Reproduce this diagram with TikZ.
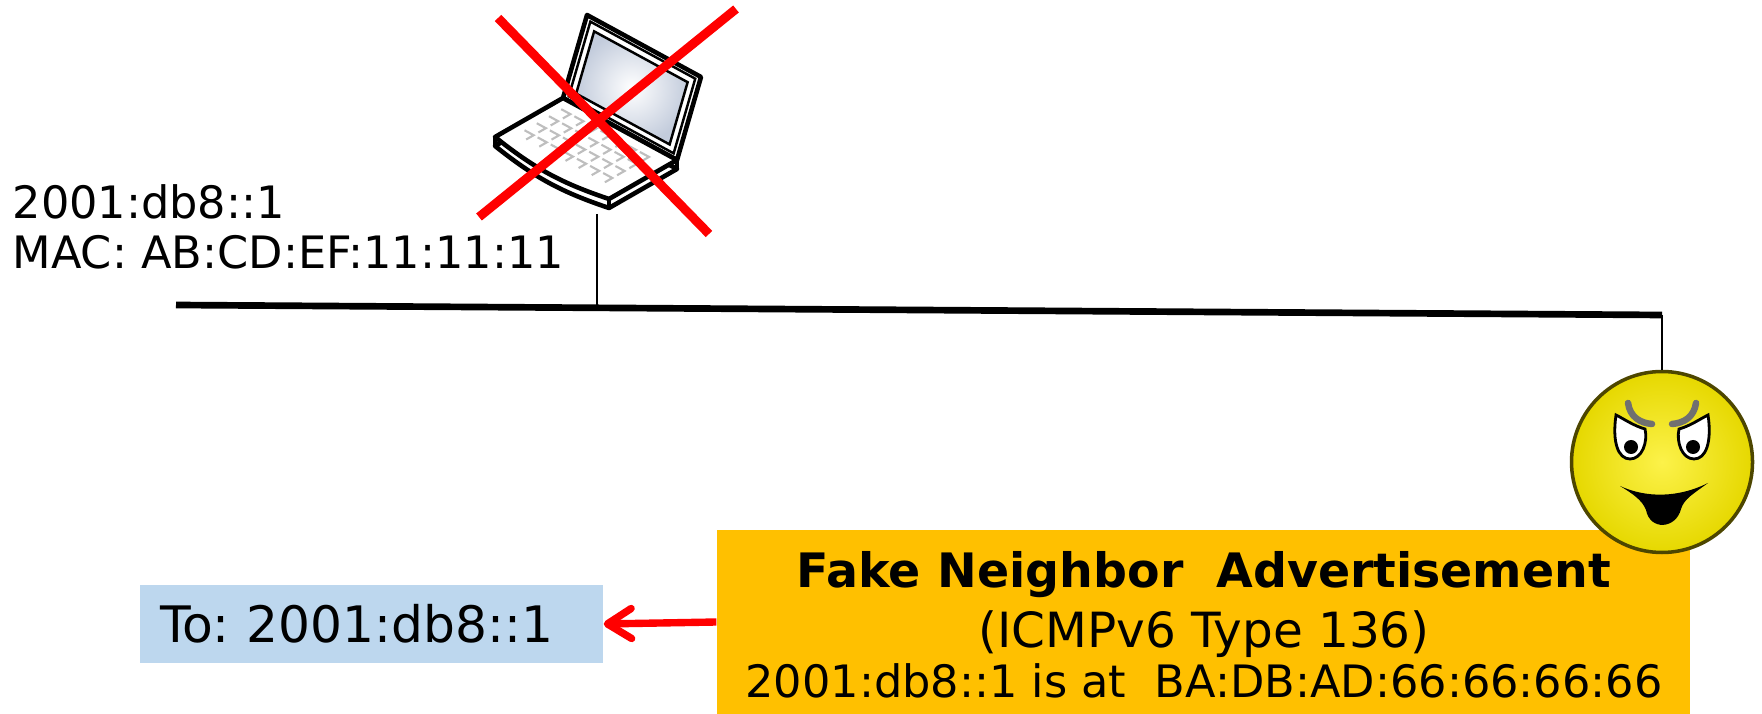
\documentclass[tikz,border=0pt]{standalone}
\usepackage{fontspec}
\setmainfont{DejaVu Sans}
\usepackage{xcolor}
\usetikzlibrary{arrows.meta, positioning, calc}

\definecolor{advorange}{HTML}{FFC000}
\definecolor{destblue}{HTML}{BDD7EE}
\definecolor{facerim}{HTML}{4D4600}
\definecolor{facelight}{HTML}{FCF24A}
\definecolor{facedark}{HTML}{E6D800}
\definecolor{browgray}{HTML}{707070}
\definecolor{screenblue}{HTML}{C3CCDC}
\definecolor{keygray}{HTML}{BEBEBE}

\frenchspacing

\begin{document}
\begin{tikzpicture}[
    lbl/.style={font=\fontsize{12.7}{14.2}\selectfont, inner sep=0, align=left},
    destbox/.style={fill=destblue, minimum width=4.63cm, minimum height=0.77cm, inner xsep=0.2cm, inner ysep=0, text width=4.23cm, align=left, font=\fontsize{14.3}{16}\selectfont},
    advbox/.style={fill=advorange, minimum width=9.73cm, minimum height=1.84cm, inner sep=0},
    advtext/.style={anchor=base, inner sep=0},
    busline/.style={line width=1.9pt},
    tapline/.style={line width=0.55pt},
    laptop/.style={draw=black, fill=white, line width=1.3pt, line join=round},
    keyline/.style={keygray, line width=0.6pt},
    crossline/.style={red, line width=0.09cm},
    redarr/.style={-{Straight Barb[length=0.24cm, width=0.3cm, round]}, line width=2.1pt, red},
]
\useasboundingbox (0,0) rectangle (17.62,-7.14);

% Host address label
\node[lbl, anchor=north west] (hostinfo) at (0.12,-1.84) {2001:db8::1\\MAC: AB:CD:EF:11:11:11};

% Shared link
\coordinate (busL) at (1.76,-3.05);
\coordinate (busR) at (16.62,-3.15);
\draw[busline] (busL) -- (busR);

% Laptop drop
\coordinate (laptop) at (5.97,-2.14);
\coordinate (tap1) at (5.97,-3.07);
\draw[tapline] (laptop) -- (tap1);

% Laptop lid
\begin{scope}[shift={(5.63,-0.98)}, x={(1.14cm,-0.62cm)}, y={(0.24cm,0.83cm)}]
    \draw[laptop] (0,0) -- (1,0) -- (1,1) -- (0,1) -- cycle;
    \draw[line width=0.7pt] (0.04,0.05) -- (0.96,0.05) -- (0.96,0.95) -- (0.04,0.95) -- cycle;
    \shade[draw=black, line width=0.7pt, inner color=white, outer color=screenblue]
        (0.09,0.12) -- (0.91,0.12) -- (0.91,0.87) -- (0.09,0.87) -- cycle;
\end{scope}

% Laptop base with keys
\begin{scope}[shift={(5.63,-0.98)}, x={(1.14cm,-0.62cm)}, y={(-0.68cm,-0.39cm)}]
    \begin{scope}[yshift=-0.09cm]
        \draw[laptop] (0,0) -- (1,0) -- (1,1) to[bend left=10] (0,1) -- cycle;
    \end{scope}
    \draw[laptop] (0,0) -- (1,0) -- (1,1) to[bend left=10] (0,1) -- cycle;
    \draw[line width=1pt] (1,1) -- ++(0cm,-0.09cm);
    \draw[line width=1pt] (0,1) -- ++(0cm,-0.09cm);
    \draw[line width=1pt] (1,0) -- ++(0cm,-0.09cm);
    \foreach \i in {0,...,6}
        \foreach \j in {0,...,3}
            \draw[keyline] ({0.08+0.115*\i},{0.16+0.18*\j}) -- ++(0.08,0) -- ++(0,0.11);
\end{scope}

% Crossed out
\draw[crossline] (4.98,-0.18) -- (7.09,-2.34);
\draw[crossline] (7.36,-0.09) -- (4.79,-2.17);

% Spoofed advertisement
\node[advbox] (advert) at (12.035,-6.22) {};
\node[advtext, font=\bfseries\fontsize{13.5}{16}\selectfont] (advtitle) at (12.04,-5.88) {Fake Neighbor\ \ Advertisement};
\node[advtext, font=\fontsize{13.8}{16}\selectfont] (advtype) at (12.04,-6.48) {(ICMPv6 Type 136)};
\node[advtext, font=\fontsize{12.7}{15}\selectfont] (advbody) at (12.04,-6.97) {2001:db8::1 is at\ \ BA:DB:AD:66:66:66:66};

% Destination
\node[destbox] (dest) at (3.715,-6.24) {To: 2001:db8::1};
\draw[redarr] (advert.west) -- (dest.east);

% Attacker
\node[circle, minimum size=1.81cm, inner sep=0, draw=facerim, line width=1pt,
      inner color=facelight, outer color=facedark] (attacker) at (16.62,-4.62) {};
\draw[tapline] (busR) -- (attacker.north);

\begin{scope}[shift={(attacker.center)}]
    % brows
    \draw[browgray, line width=0.065cm, line cap=round] (-0.34,0.59) .. controls (-0.32,0.45) and (-0.22,0.39) .. (-0.10,0.38);
    \draw[browgray, line width=0.065cm, line cap=round] (0.34,0.59) .. controls (0.32,0.45) and (0.22,0.39) .. (0.10,0.38);
    % eyes
    \foreach \s in {-1,1} {
        \draw[fill=white, line width=0.8pt] (\s*0.46,0.47) .. controls (\s*0.50,0.2) and (\s*0.44,0.03) .. (\s*0.32,0.03)
            .. controls (\s*0.20,0.03) and (\s*0.14,0.2) .. (\s*0.17,0.33)
            .. controls (\s*0.28,0.36) and (\s*0.38,0.43) .. cycle;
        \fill (\s*0.31,0.15) circle (0.07);
    }
    % mouth
    \fill (-0.42,-0.24) .. controls (-0.16,-0.36) and (0.16,-0.36) .. (0.46,-0.21)
        .. controls (0.31,-0.32) and (0.22,-0.37) .. (0.19,-0.47)
        .. controls (0.14,-0.67) and (-0.12,-0.69) .. (-0.16,-0.48)
        .. controls (-0.20,-0.38) and (-0.29,-0.32) .. cycle;
\end{scope}

\end{tikzpicture}
\end{document}
